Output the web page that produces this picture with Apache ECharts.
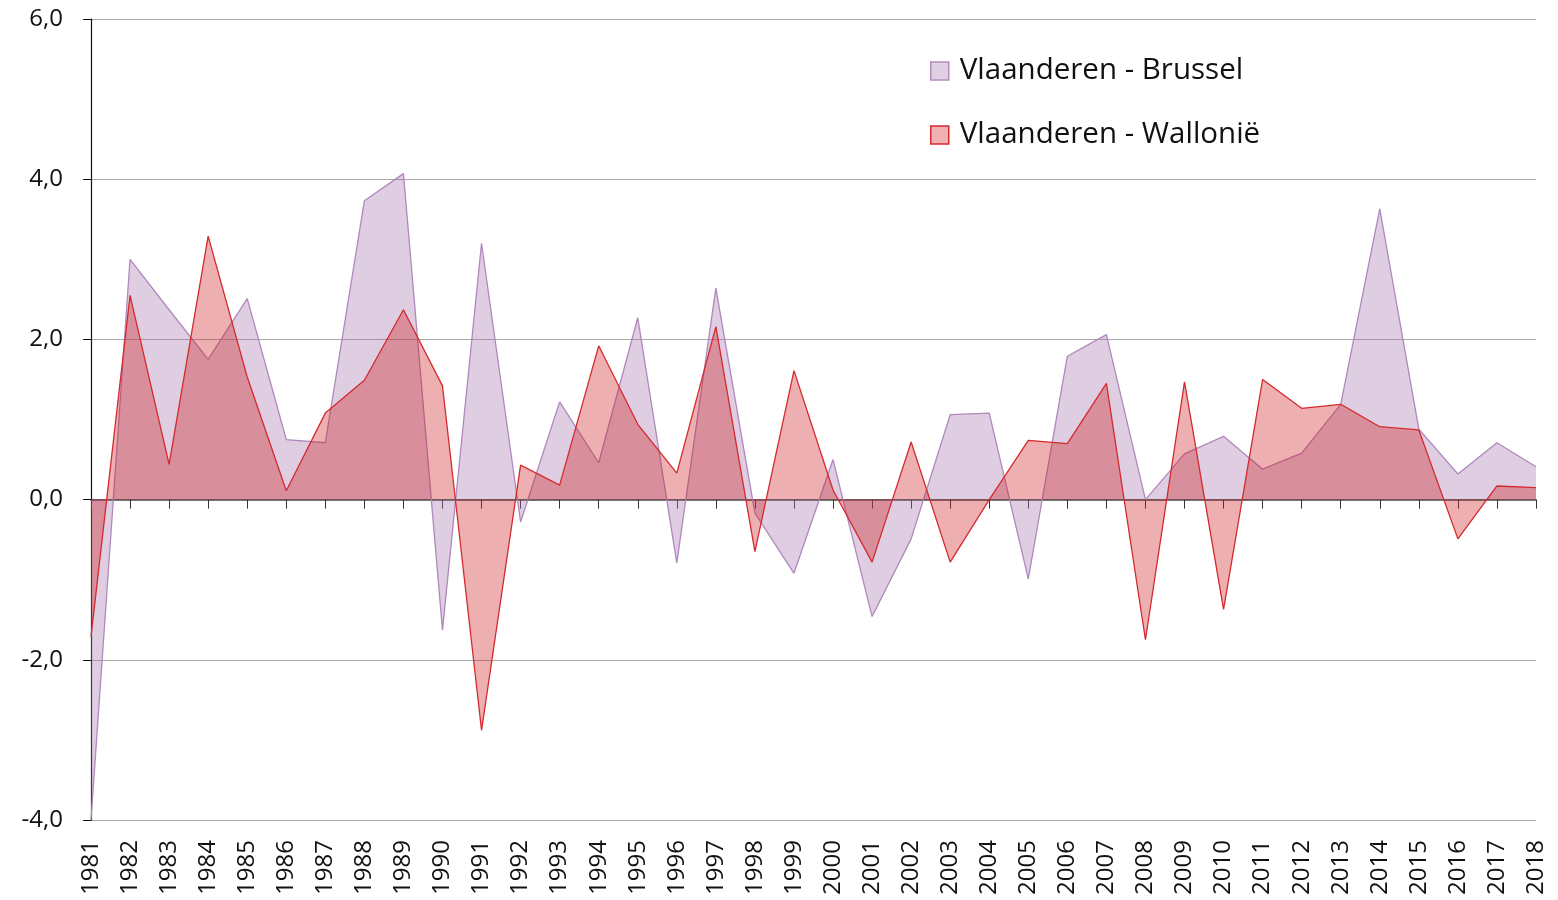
<!DOCTYPE html>
<html>
<head>
<meta charset="utf-8">
<script src="https://cdn.jsdelivr.net/npm/echarts@6/dist/echarts.min.js"></script>
<style>
  html, body { margin: 0; padding: 0; background: #fff; }
  #chart { width: 1558px; height: 900px; }
</style>
</head>
<body>
<div id="chart"></div>
<script>
// jaren
const years = ['1981','1982','1983','1984','1985','1986','1987','1988','1989','1990',
  '1991','1992','1993','1994','1995','1996','1997','1998','1999','2000',
  '2001','2002','2003','2004','2005','2006','2007','2008','2009','2010',
  '2011','2012','2013','2014','2015','2016','2017','2018'];

// Vlaanderen - Brussel
const brussel = [-4.0, 3.0, 2.37, 1.75, 2.51, 0.75, 0.71, 3.73, 4.07, -1.63,
  3.20, -0.28, 1.22, 0.46, 2.27, -0.79, 2.64, -0.17, -0.92, 0.50,
  -1.46, -0.49, 1.06, 1.08, -0.99, 1.79, 2.06, 0.0, 0.57, 0.79,
  0.38, 0.58, 1.19, 3.63, 0.88, 0.32, 0.71, 0.41];

// Vlaanderen - Wallonië
const wallonie = [-1.71, 2.55, 0.44, 3.29, 1.53, 0.11, 1.08, 1.49, 2.37, 1.42,
  -2.88, 0.43, 0.18, 1.92, 0.94, 0.33, 2.16, -0.65, 1.61, 0.12,
  -0.78, 0.72, -0.78, 0.0, 0.74, 0.70, 1.45, -1.75, 1.47, -1.37,
  1.50, 1.14, 1.19, 0.91, 0.87, -0.49, 0.17, 0.15];

const yTicks = [-4, -2, 0, 2, 4, 6];

const fmt = v => v.toFixed(1).replace('.', ',');

let myChart = echarts.init(document.getElementById('chart'));
let options = {
  animation: false,
  textStyle: { fontFamily: 'Open Sans' },
  grid: { left: 91, right: 22, top: 19, bottom: 80 },
  legend: {
    orient: 'vertical',
    left: 925,
    top: 51,
    itemGap: 34,
    itemWidth: 18,
    itemHeight: 18,
    icon: 'rect',
    textStyle: { fontSize: 29.5, color: '#111', fontFamily: 'Open Sans', padding: [0, 0, 0, 6] },
    data: [
      { name: 'Vlaanderen - Brussel', itemStyle: { color: '#e0d0e3', borderColor: '#b48cc0', borderWidth: 1.5 } },
      { name: 'Vlaanderen - Wallonië', itemStyle: { color: '#eeb0b0', borderColor: '#d42a2f', borderWidth: 1.5 } }
    ]
  },
  xAxis: [
    {
      // as op 0 met streepjes
      type: 'category',
      boundaryGap: false,
      data: years,
      position: 'bottom',
      axisLine: { onZero: true, lineStyle: { color: '#444', width: 1.5 } },
      axisTick: { show: true, alignWithLabel: true, length: 9, lineStyle: { color: '#333' } },
      axisLabel: { show: false },
      splitLine: { show: false }
    },
    {
      // labels onderaan
      type: 'category',
      boundaryGap: false,
      data: years,
      position: 'bottom',
      axisLine: { show: false, onZero: false },
      axisTick: { show: false },
      axisLabel: { show: true, rotate: 90, interval: 0, margin: 20, fontSize: 24, color: '#111', fontFamily: 'Open Sans' },
      splitLine: { show: false }
    }
  ],
  yAxis: {
    type: 'value',
    min: yTicks[0],
    max: yTicks[yTicks.length - 1],
    interval: 2,
    axisLine: { show: true, onZero: false, lineStyle: { color: '#111', width: 1.2 } },
    axisTick: { show: true, length: 8, lineStyle: { color: '#111' } },
    axisLabel: { formatter: fmt, fontSize: 24, color: '#111', margin: 28, fontFamily: 'Open Sans' },
    splitLine: { show: true, lineStyle: { color: '#a8a8a8', width: 1.2 } }
  },
  series: [
    {
      name: 'Vlaanderen - Brussel',
      type: 'line',
      data: brussel,
      showSymbol: false,
      lineStyle: { width: 1.3, color: '#b088be' },
      itemStyle: { color: '#b088be' },
      areaStyle: { color: 'rgba(164,112,170,0.35)', opacity: 1 },
      z: 2
    },
    {
      name: 'Vlaanderen - Wallonië',
      type: 'line',
      data: wallonie,
      showSymbol: false,
      lineStyle: { width: 1.3, color: '#d42a2f' },
      itemStyle: { color: '#d42a2f' },
      areaStyle: { color: 'rgba(204,26,26,0.35)', opacity: 1 },
      z: 3
    }
  ]
};
myChart.setOption(options);
</script>
</body>
</html>
